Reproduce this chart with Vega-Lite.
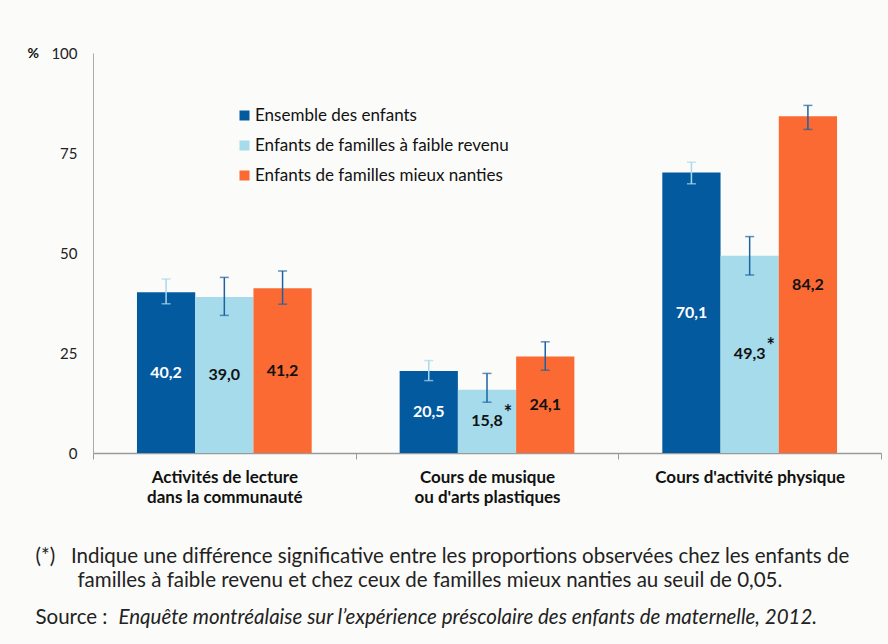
{
  "$schema": "https://vega.github.io/schema/vega-lite/v6.json",
  "width": 788,
  "height": 400,
  "autosize": {"type": "none"},
  "padding": {"left": 93, "top": 53, "right": 7, "bottom": 191},
  "background": "#fbfbf9",
  "config": {
    "font": "Lato",
    "view": {"stroke": null}
  },
  "data": {
    "values": [
      {"category": "Activités de lecture|dans la communauté", "series": "Ensemble des enfants", "value": 40.2, "lo": 37.3, "hi": 43.5, "label": "40,2", "star": ""},
      {"category": "Activités de lecture|dans la communauté", "series": "Enfants de familles à faible revenu", "value": 39.0, "lo": 34.4, "hi": 43.9, "label": "39,0", "star": ""},
      {"category": "Activités de lecture|dans la communauté", "series": "Enfants de familles mieux nanties", "value": 41.2, "lo": 37.2, "hi": 45.5, "label": "41,2", "star": ""},
      {"category": "Cours de musique|ou d'arts plastiques", "series": "Ensemble des enfants", "value": 20.5, "lo": 18.1, "hi": 23.1, "label": "20,5", "star": ""},
      {"category": "Cours de musique|ou d'arts plastiques", "series": "Enfants de familles à faible revenu", "value": 15.8, "lo": 12.7, "hi": 19.9, "label": "15,8", "star": "*"},
      {"category": "Cours de musique|ou d'arts plastiques", "series": "Enfants de familles mieux nanties", "value": 24.1, "lo": 20.7, "hi": 27.8, "label": "24,1", "star": ""},
      {"category": "Cours d'activité physique", "series": "Ensemble des enfants", "value": 70.1, "lo": 67.3, "hi": 72.7, "label": "70,1", "star": ""},
      {"category": "Cours d'activité physique", "series": "Enfants de familles à faible revenu", "value": 49.3, "lo": 44.5, "hi": 54.1, "label": "49,3", "star": "*"},
      {"category": "Cours d'activité physique", "series": "Enfants de familles mieux nanties", "value": 84.2, "lo": 80.9, "hi": 86.9, "label": "84,2", "star": ""}
    ]
  },
  "encoding": {
    "xOffset": {
      "field": "series",
      "type": "nominal",
      "scale": {
        "domain": ["Ensemble des enfants", "Enfants de familles à faible revenu", "Enfants de familles mieux nanties"],
        "paddingInner": 0,
        "paddingOuter": 0.755
      }
    }
  },
  "layer": [
    {
      "encoding": {
        "x": {
          "field": "category",
          "type": "nominal",
          "sort": null,
          "scale": {"paddingInner": 0, "paddingOuter": 0},
          "axis": {
            "orient": "bottom",
            "title": [
              "(*)\u00a0\u00a0\u00a0Indique une différence significative entre les proportions observées chez les enfants de",
              "\u200b\u00a0\u00a0\u00a0\u00a0\u00a0\u00a0\u00a0\u00a0familles à faible revenu et chez ceux de familles mieux nanties au seuil de 0,05."
            ],
            "titleX": -58,
            "titleY": 93,
            "titleAlign": "left",
            "titleBaseline": "top",
            "titleAngle": 0,
            "titleFont": "Lato",
            "titleFontSize": 20.5,
            "titleFontWeight": "normal",
            "titleColor": "#222222",
            "titleLineHeight": 24.4,
            "labelExpr": "datum.value ? split(datum.value, '|') : ''",
            "labelAngle": 0,
            "labelFontSize": 17,
            "labelFontWeight": "bold",
            "labelColor": "#111111",
            "labelLineHeight": 20,
            "labelPadding": 10,
            "labelBaseline": "top",
            "labelLimit": 400,
            "tickBand": "extent",
            "tickSize": 6,
            "tickColor": "#9a9a9a",
            "domainColor": "#9a9a9a",
            "domainWidth": 1.5
          }
        }
      },
      "layer": [
        {
          "mark": {"type": "bar"},
          "encoding": {
            "y": {
              "field": "value",
              "type": "quantitative",
              "scale": {"domain": [0, 100], "nice": false},
              "axis": {
                "orient": "left",
                "values": [0, 25, 50, 75, 100],
                "title": "%",
                "titleAngle": 0,
                "titleX": -66,
                "titleY": 0,
                "titleAlign": "left",
                "titleBaseline": "middle",
                "titleFontSize": 14,
                "titleFontWeight": "bold",
                "titleColor": "#111111",
                "labelFontSize": 15,
                "labelColor": "#222222",
                "labelPadding": 16,
                "ticks": false,
                "tickSize": 0,
                "grid": false,
                "domainColor": "#aaaaaa"
              }
            },
            "color": {
              "field": "series",
              "type": "nominal",
              "scale": {
                "domain": ["Ensemble des enfants", "Enfants de familles à faible revenu", "Enfants de familles mieux nanties"],
                "range": ["#045a9f", "#a5dbeb", "#fb6a33"]
              },
              "legend": {
                "title": null,
                "orient": "none",
                "legendX": 143,
                "legendY": 54,
                "symbolType": "square",
                "symbolSize": 100,
                "symbolStrokeWidth": 0,
                "labelFontSize": 17,
                "labelColor": "#111111",
                "labelOffset": 2,
                "rowPadding": 12,
                "labelLimit": 400
              }
            }
          }
        },
        {
          "mark": {"type": "rule", "strokeWidth": 1.5},
          "encoding": {
            "y": {"field": "lo", "type": "quantitative"},
            "y2": {"field": "hi"},
            "color": {
              "condition": {"test": "datum.series == 'Ensemble des enfants'", "value": "#a9d8ea"},
              "value": "#1d62a3"
            }
          }
        },
        {
          "mark": {"type": "tick", "size": 9, "thickness": 1.5},
          "encoding": {
            "y": {"field": "lo", "type": "quantitative"},
            "color": {
              "condition": {"test": "datum.series == 'Ensemble des enfants'", "value": "#a9d8ea"},
              "value": "#1d62a3"
            }
          }
        },
        {
          "mark": {"type": "tick", "size": 9, "thickness": 1.5},
          "encoding": {
            "y": {"field": "hi", "type": "quantitative"},
            "color": {
              "condition": {"test": "datum.series == 'Ensemble des enfants'", "value": "#a9d8ea"},
              "value": "#1d62a3"
            }
          }
        }
      ]
    },
    {
      "encoding": {
        "x": {
          "field": "category",
          "type": "nominal",
          "sort": null,
          "scale": {"paddingInner": 0, "paddingOuter": 0},
          "axis": {
            "orient": "top",
            "domain": false,
            "labels": false,
            "ticks": false,
            "grid": false,
            "title": "Source :",
            "titleX": -58,
            "titleY": 564,
            "titleAngle": 0,
            "titleAlign": "left",
            "titleBaseline": "middle",
            "titleFont": "Lato",
            "titleFontSize": 20.5,
            "titleFontWeight": "normal",
            "titleColor": "#222222"
          }
        }
      },
      "layer": [
        {
          "mark": {"type": "text", "fontSize": 16, "fontWeight": "bold", "baseline": "middle"},
          "encoding": {
            "y": {
              "field": "value",
              "type": "quantitative",
              "scale": {"domain": [0, 200], "nice": false},
              "axis": {
                "orient": "right",
                "domain": false,
                "labels": false,
                "ticks": false,
                "grid": false,
                "title": "Enquête montréalaise sur l’expérience préscolaire des enfants de maternelle, 2012.",
                "titleX": -763,
                "titleY": 564,
                "titleAngle": 0,
                "titleAlign": "left",
                "titleBaseline": "middle",
                "titleFont": "Lato",
                "titleFontSize": 20.5,
                "titleFontStyle": "italic",
                "titleFontWeight": "normal",
                "titleColor": "#222222"
              }
            },
            "text": {"field": "label"},
            "color": {
              "condition": {"test": "datum.series == 'Ensemble des enfants'", "value": "#ffffff"},
              "value": "#111111"
            }
          }
        },
        {
          "mark": {"type": "text", "fontSize": 20, "fontWeight": "bold", "baseline": "middle", "dx": 21, "dy": -7, "color": "#111111"},
          "encoding": {
            "y": {"field": "value", "type": "quantitative"},
            "text": {"field": "star"}
          }
        }
      ]
    }
  ],
  "resolve": {"scale": {"y": "independent", "x": "independent"}}
}
